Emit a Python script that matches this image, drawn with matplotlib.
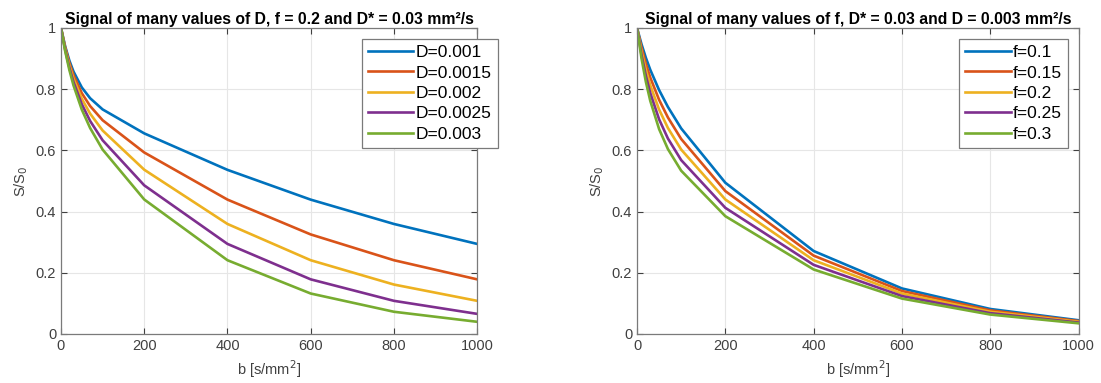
import numpy as np
import matplotlib
matplotlib.use("Agg")
import matplotlib.pyplot as plt

plt.rcParams['font.family'] = ['Liberation Sans', 'DejaVu Sans']

# b values [s/mm^2]
b = [0, 10, 20, 30, 50, 70, 100, 200, 400, 600, 800, 1000]

# left panel: f = 0.2, D* = 0.03, several D
d_labels = ["D=0.001", "D=0.0015", "D=0.002", "D=0.0025", "D=0.003"]
s_d001 = [1, 0.9402, 0.8939, 0.8577, 0.8056, 0.7704, 0.7338, 0.6555, 0.5363, 0.4390, 0.3595, 0.2943]
s_d0015 = [1, 0.9363, 0.8861, 0.8461, 0.7868, 0.7448, 0.6985, 0.5931, 0.4391, 0.3253, 0.2410, 0.1785]
s_d002 = [1, 0.9323, 0.8784, 0.8347, 0.7685, 0.7200, 0.6649, 0.5368, 0.3595, 0.2410, 0.1615, 0.1083]
s_d0025 = [1, 0.9284, 0.8707, 0.8235, 0.7506, 0.6961, 0.6330, 0.4857, 0.2943, 0.1785, 0.1083, 0.0657]
s_d003 = [1, 0.9245, 0.8632, 0.8125, 0.7332, 0.6730, 0.6026, 0.4395, 0.2410, 0.1322, 0.0726, 0.0398]

# right panel: D* = 0.03, D = 0.003, several f
f_labels = ["f=0.1", "f=0.15", "f=0.2", "f=0.25", "f=0.3"]
s_f01 = [1, 0.9475, 0.9025, 0.8632, 0.7970, 0.7418, 0.6717, 0.4942, 0.2711, 0.1488, 0.0817, 0.0448]
s_f015 = [1, 0.9360, 0.8828, 0.8378, 0.7651, 0.7074, 0.6372, 0.4669, 0.2560, 0.1405, 0.0771, 0.0423]
s_f02 = [1, 0.9245, 0.8632, 0.8125, 0.7332, 0.6730, 0.6026, 0.4395, 0.2410, 0.1322, 0.0726, 0.0398]
s_f025 = [1, 0.9130, 0.8435, 0.7871, 0.7013, 0.6386, 0.5681, 0.4122, 0.2259, 0.1240, 0.0680, 0.0373]
s_f03 = [1, 0.9016, 0.8239, 0.7617, 0.6694, 0.6041, 0.5335, 0.3849, 0.2108, 0.1157, 0.0635, 0.0349]

colors = ["#0072BD", "#D95319", "#EDB120", "#7E2F8E", "#77AC30"]

fig = plt.figure(figsize=(11.01, 3.83), dpi=100)
ax1 = fig.add_axes([0.0554, 0.128, 0.378, 0.799])
ax2 = fig.add_axes([0.5786, 0.128, 0.401, 0.799])


def style(ax, title):
    ax.set_xlim(0, 1000)
    ax.set_ylim(0, 1)
    ax.set_xticks([0, 200, 400, 600, 800, 1000])
    ax.set_yticks([0, 0.2, 0.4, 0.6, 0.8, 1])
    ax.set_yticklabels(["0", "0.2", "0.4", "0.6", "0.8", "1"])
    ax.grid(True, color="#e6e6e6", linewidth=0.8)
    ax.set_axisbelow(True)
    ax.tick_params(direction="in", top=True, right=True, labelsize=10.5,
                   colors="#404040", length=4, width=0.8)
    for sp in ax.spines.values():
        sp.set_color("#7a7a7a")
        sp.set_linewidth(0.9)
    ax.set_title(title, fontsize=11.3, fontweight="bold", pad=3)
    ax.set_xlabel("b [s/mm$^2$]", fontsize=10.5, color="#404040")
    ax.set_ylabel("S/S$_0$", fontsize=10.5, color="#404040")


def legend(ax, anchor):
    leg = ax.legend(loc="upper right", bbox_to_anchor=anchor, fontsize=12.5,
                    handlelength=2.6, fancybox=False, edgecolor="#7a7a7a",
                    framealpha=1, borderaxespad=0, labelspacing=0.3,
                    handletextpad=0.15, borderpad=0.35)
    leg.get_frame().set_linewidth(0.9)


for ys, lab, c in zip([s_d001, s_d0015, s_d002, s_d0025, s_d003], d_labels, colors):
    ax1.plot(b, ys, color=c, lw=1.9, label=lab)
style(ax1, "Signal of many values of D, f = 0.2 and D* = 0.03 mm²/s")
legend(ax1, (1.05, 0.964))

for ys, lab, c in zip([s_f01, s_f015, s_f02, s_f025, s_f03], f_labels, colors):
    ax2.plot(b, ys, color=c, lw=1.9, label=lab)
style(ax2, "Signal of many values of f, D* = 0.03 and D = 0.003 mm²/s")
legend(ax2, (0.977, 0.964))

fig.savefig("out.png", dpi=100)
